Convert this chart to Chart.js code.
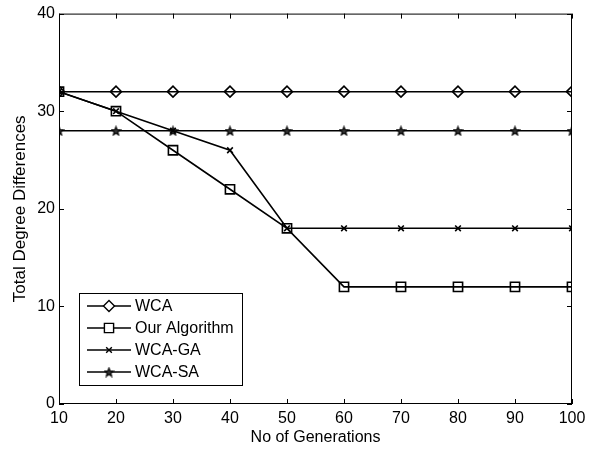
<!DOCTYPE html>
<html>
<head>
<meta charset="utf-8">
<script src="https://cdn.jsdelivr.net/npm/chart.js@4.4.1/dist/chart.umd.min.js"></script>
<style>
  html, body { margin: 0; padding: 0; background: #fff; }
  #wrap { width: 597px; height: 450px; }
</style>
</head>
<body>
<div id="wrap"><canvas id="genChart" width="597" height="450"></canvas></div>
<script>
// data
const generations = [10, 20, 30, 40, 50, 60, 70, 80, 90, 100]
const wca = [32, 32, 32, 32, 32, 32, 32, 32, 32, 32]
const ourAlgorithm = [32, 30, 26, 22, 18, 12, 12, 12, 12, 12]
const wcaGA = [32, 30, 28, 26, 18, 18, 18, 18, 18, 18]
const wcaSA = [28, 28, 28, 28, 28, 28, 28, 28, 28, 28]

const FONT = 'Liberation Sans, Arial, Helvetica, sans-serif'

// small pentagram used as point style
const starImg = (() => {
    const c = document.createElement('canvas')
    c.width = 11; c.height = 11
    const g = c.getContext('2d')
    g.beginPath()
    for (let i = 0; i < 10; i++) {
        const r = i % 2 === 0 ? 4.6 : 2.0
        const a = -Math.PI / 2 + i * Math.PI / 5
        const px = 5.5 + r * Math.cos(a), py = 6 + r * Math.sin(a)
        i === 0 ? g.moveTo(px, py) : g.lineTo(px, py)
    }
    g.closePath()
    g.fillStyle = '#333'
    g.fill()
    g.strokeStyle = '#000'
    g.lineWidth = 1.1
    g.stroke()
    return c
})()

const toPoints = (ys) => ys.map((y, i) => ({ x: generations[i], y: y }))

const series = (label, ys, style, radius) => ({
    label: label,
    data: toPoints(ys),
    borderColor: '#000',
    borderWidth: 1.6,
    pointStyle: style,
    pointRadius: radius,
    pointBorderColor: '#000',
    pointBorderWidth: 1.6,
    pointBackgroundColor: 'rgba(0,0,0,0)',
    fill: false,
    tension: 0
})

// inward ticks on all four sides + frame
const frameTicks = {
    id: 'frameTicks',
    afterDatasetsDraw(chart) {
        const { ctx, chartArea: a, scales } = chart
        ctx.save()
        ctx.strokeStyle = '#000'
        ctx.lineWidth = 1
        ctx.strokeRect(a.left + 0.5, a.top + 0.5, a.right - a.left - 1, a.bottom - a.top - 1)
        ctx.beginPath()
        scales.x.ticks.forEach(t => {
            const px = Math.round(scales.x.getPixelForValue(t.value)) + 0.5
            ctx.moveTo(px, a.bottom); ctx.lineTo(px, a.bottom - 5)
            ctx.moveTo(px, a.top); ctx.lineTo(px, a.top + 5)
        })
        scales.y.ticks.forEach(t => {
            const py = Math.round(scales.y.getPixelForValue(t.value)) + 0.5
            ctx.moveTo(a.left, py); ctx.lineTo(a.left + 5, py)
            ctx.moveTo(a.right, py); ctx.lineTo(a.right - 5, py)
        })
        ctx.stroke()
        ctx.restore()
    }
}

// boxed legend inside the lower-left of the plot
const insideLegend = {
    id: 'insideLegend',
    afterDraw(chart) {
        const { ctx, chartArea: a } = chart
        const sets = chart.data.datasets
        const boxX = a.left + 20, boxW = 163, rowH = 22
        const boxH = sets.length * rowH + 4
        const boxY = a.bottom - 19 - boxH
        ctx.save()
        ctx.fillStyle = '#fff'
        ctx.fillRect(boxX, boxY, boxW, boxH)
        ctx.strokeStyle = '#000'
        ctx.lineWidth = 1
        ctx.strokeRect(boxX + 0.5, boxY + 0.5, boxW, boxH)
        ctx.textBaseline = 'middle'
        sets.forEach((ds, i) => {
            const cy = boxY + 13 + i * rowH
            ctx.beginPath()
            ctx.strokeStyle = '#000'
            ctx.lineWidth = 1.4
            ctx.moveTo(boxX + 8, cy); ctx.lineTo(boxX + 52, cy)
            ctx.stroke()
            ctx.fillStyle = '#fff'
            Chart.helpers.drawPoint(ctx, {
                pointStyle: ds.pointStyle,
                radius: ds.pointRadius,
                borderWidth: 1.4,
                rotation: 0
            }, boxX + 30, cy)
            ctx.fillStyle = '#000'
            ctx.font = '16px ' + FONT
            ctx.fillText(ds.label, boxX + 56, cy + 1)
        })
        ctx.restore()
    }
}

const ctx = document.getElementById('genChart').getContext('2d')
const genChart = new Chart(ctx, {
    type: 'line',
    data: {
        datasets: [
            series('WCA', wca, 'rectRot', 5.5),
            series('Our Algorithm', ourAlgorithm, 'rect', 6.5),
            series('WCA-GA', wcaGA, 'crossRot', 4),
            series('WCA-SA', wcaSA, starImg, 6)
        ]
    },
    options: {
        responsive: false,
        animation: false,
        layout: { padding: { top: 12, right: 25, left: 0, bottom: 0 } },
        plugins: {
            legend: { display: false },
            tooltip: { enabled: false }
        },
        scales: {
            x: {
                type: 'linear',
                min: 10,
                max: 100,
                border: { display: false },
                grid: { display: false, drawTicks: false },
                ticks: { stepSize: 10, color: '#000', font: { family: FONT, size: 16 }, padding: 5, maxRotation: 0 },
                title: { display: true, text: 'No of Generations', color: '#000', font: { family: FONT, size: 16 }, padding: { top: 0, bottom: 3 } },
                afterFit: (s) => { s.height = 46 }
            },
            y: {
                min: 0,
                max: 40,
                border: { display: false },
                grid: { display: false, drawTicks: false },
                ticks: { stepSize: 10, color: '#000', font: { family: FONT, size: 16 }, padding: 4 },
                title: { display: true, text: 'Total Degree Differences', color: '#000', font: { family: FONT, size: 17 }, padding: { top: 10, bottom: 0 } },
                afterFit: (s) => { s.width = 59 }
            }
        }
    },
    plugins: [frameTicks, insideLegend]
})
</script>
</body>
</html>
